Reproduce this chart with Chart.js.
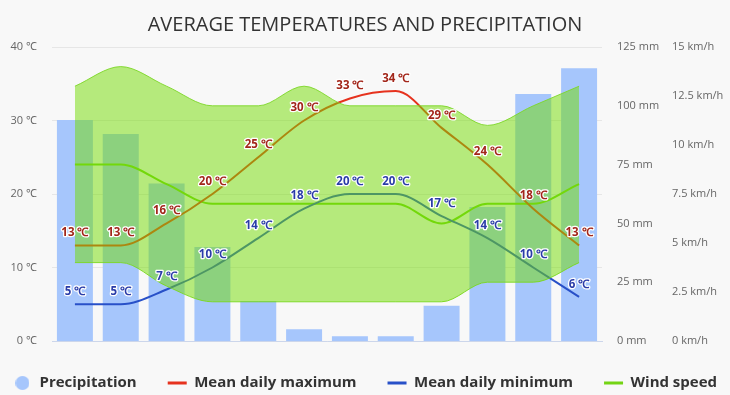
<!DOCTYPE html>
<html>
<head>
<meta charset="utf-8">
<script src="https://cdn.jsdelivr.net/npm/chart.js"></script>
<style>
  html, body { margin: 0; padding: 0; background: #f8f8f8; }
</style>
</head>
<body>
<canvas id="myChart" width="730" height="395"></canvas>

<script>
const months = ['Jan', 'Feb', 'Mar', 'Apr', 'May', 'Jun', 'Jul', 'Aug', 'Sep', 'Oct', 'Nov', 'Dec'];
const precipitation = [94, 88, 67, 40, 17, 5, 2, 2, 15, 57, 105, 116];   // mm
const tempMax = [13, 13, 16, 20, 25, 30, 33, 34, 29, 24, 18, 13];          // °C
const tempMin = [5, 5, 7, 10, 14, 18, 20, 20, 17, 14, 10, 6];              // °C
const windSpeed = [9, 9, 8, 7, 7, 7, 7, 7, 6, 7, 7, 8];                    // km/h
const windHigh = [13, 14, 13, 12, 12, 13, 12, 12, 12, 11, 12, 13];         // km/h
const windLow = [4, 4, 2.8, 2, 2, 2, 2, 2, 2, 3, 3, 4];                    // km/h

const tempTicks = [0, 10, 20, 30, 40];
const precipTicks = [0, 25, 50, 75, 100, 125];
const windTicks = [0, 2.5, 5, 7.5, 10, 12.5, 15];

const tickFont = { family: 'Open Sans', size: 11 };

// round marker for the precipitation legend entry
const dot = document.createElement('canvas');
dot.width = 14; dot.height = 14;
const dctx = dot.getContext('2d');
dctx.fillStyle = '#a6c6fc';
dctx.beginPath(); dctx.arc(7, 7, 7, 0, Math.PI * 2); dctx.fill();

const background = {
  id: 'background',
  beforeDraw(chart) {
    const ctx = chart.ctx;
    ctx.save();
    ctx.fillStyle = '#f8f8f8';
    ctx.fillRect(0, 0, chart.width, chart.height);
    ctx.restore();
  }
};

// "13 ℃" labels above the temperature points
const pointLabels = {
  id: 'pointLabels',
  afterDatasetsDraw(chart) {
    const ctx = chart.ctx;
    chart.data.datasets.forEach((ds, i) => {
      if (!ds.labelColor) return;
      chart.getDatasetMeta(i).data.forEach((pt, j) => {
        const text = ds.data[j] + ' ℃';
        ctx.save();
        ctx.font = 'bold 11.5px "Open Sans"';
        ctx.textAlign = 'center';
        ctx.textBaseline = 'middle';
        ctx.lineJoin = 'round';
        ctx.lineWidth = 2.5;
        ctx.strokeStyle = '#ffffff';
        ctx.strokeText(text, pt.x, pt.y - 12.5);
        ctx.fillStyle = ds.labelColor;
        ctx.fillText(text, pt.x, pt.y - 12.5);
        ctx.restore();
      });
    });
  }
};

const setTicks = values => scale => { scale.ticks = values.map(v => ({ value: v })); };

new Chart(document.getElementById('myChart'), {
  type: 'bar',
  data: {
    labels: months,
    datasets: [
      {
        type: 'bar',
        label: 'Precipitation',
        data: precipitation,
        yAxisID: 'yP',
        backgroundColor: '#a6c6fc',
        barPercentage: 1,
        categoryPercentage: 0.785,
        pointStyle: dot,
        order: 4
      },
      {
        type: 'line',
        label: 'Mean daily maximum',
        data: tempMax,
        yAxisID: 'yT',
        borderColor: '#e6321e',
        backgroundColor: '#e6321e',
        borderWidth: 2,
        pointRadius: 0,
        pointStyle: 'line',
        cubicInterpolationMode: 'monotone',
        labelColor: '#a2261a',
        order: 2
      },
      {
        type: 'line',
        label: 'Mean daily minimum',
        data: tempMin,
        yAxisID: 'yT',
        borderColor: '#2850c8',
        backgroundColor: '#2850c8',
        borderWidth: 2,
        pointRadius: 0,
        pointStyle: 'line',
        cubicInterpolationMode: 'monotone',
        labelColor: '#2a3ca8',
        order: 2
      },
      {
        type: 'line',
        label: 'Wind speed',
        data: windSpeed,
        yAxisID: 'yW',
        borderColor: '#74d414',
        backgroundColor: '#74d414',
        borderWidth: 2,
        pointRadius: 0,
        pointStyle: 'line',
        cubicInterpolationMode: 'monotone',
        order: 2
      },
      {
        type: 'line',
        label: 'Wind high',
        data: windHigh,
        yAxisID: 'yW',
        borderColor: 'rgba(125,215,40,0.9)',
        backgroundColor: 'rgba(114,220,0,0.5)',
        borderWidth: 1,
        pointRadius: 0,
        cubicInterpolationMode: 'monotone',
        fill: '+1',
        order: 1
      },
      {
        type: 'line',
        label: 'Wind low',
        data: windLow,
        yAxisID: 'yW',
        borderColor: 'rgba(125,215,40,0.9)',
        borderWidth: 1,
        pointRadius: 0,
        cubicInterpolationMode: 'monotone',
        fill: false,
        order: 1
      }
    ]
  },
  options: {
    responsive: false,
    animation: false,
    // wider than the canvas so the legend fits on one row; axis widths make up for it
    layout: { padding: { left: -25, right: -25, top: 0, bottom: 0 } },
    scales: {
      x: {
        grid: { display: false, drawTicks: false },
        border: { color: '#ccd6eb' },
        ticks: { font: tickFont, color: '#666', padding: 7, maxRotation: 0 },
        afterFit: s => { s.height = 3.5; }
      },
      yT: {
        position: 'left',
        min: 0, max: 40,
        afterBuildTicks: setTicks(tempTicks),
        grid: { color: '#e6e6e6', drawTicks: false },
        border: { display: false },
        ticks: { font: tickFont, color: '#666', padding: 15, callback: v => v + ' ℃' },
        afterFit: s => { s.width = 77; }
      },
      yP: {
        position: 'right',
        weight: 0,
        min: 0, max: 125,
        afterBuildTicks: setTicks(precipTicks),
        grid: { display: false, drawTicks: false },
        border: { display: false },
        ticks: { font: tickFont, color: '#666', padding: 15, callback: v => v + ' mm' },
        afterFit: s => { s.width = 70; }
      },
      yW: {
        position: 'right',
        weight: 1,
        min: 0, max: 15,
        afterBuildTicks: setTicks(windTicks),
        grid: { display: false, drawTicks: false },
        border: { display: false },
        ticks: { font: tickFont, color: '#666', padding: 0, callback: v => v + ' km/h' },
        afterFit: s => { s.width = 83; }
      }
    },
    plugins: {
      title: {
        display: true,
        text: 'AVERAGE TEMPERATURES AND PRECIPITATION',
        color: '#333',
        font: { family: 'Open Sans', size: 20, weight: 'normal' },
        padding: { top: 13, bottom: 10 }
      },
      legend: {
        position: 'bottom',
        maxHeight: 50.5,
        labels: {
          usePointStyle: true,
          pointStyleWidth: 19,
          boxHeight: 10,
          padding: 31,
          color: '#333',
          font: { family: 'Open Sans', size: 15, weight: 'bold' },
          generateLabels: chart => Chart.defaults.plugins.legend.labels.generateLabels(chart)
            .filter(it => it.datasetIndex < 4)
            .map(it => { it.lineWidth = it.datasetIndex === 0 ? 0 : 3; return it; }),
          sort: (a, b) => a.datasetIndex - b.datasetIndex
        }
      },
      tooltip: { enabled: false }
    }
  },
  plugins: [background, pointLabels]
});
</script>
</body>
</html>
